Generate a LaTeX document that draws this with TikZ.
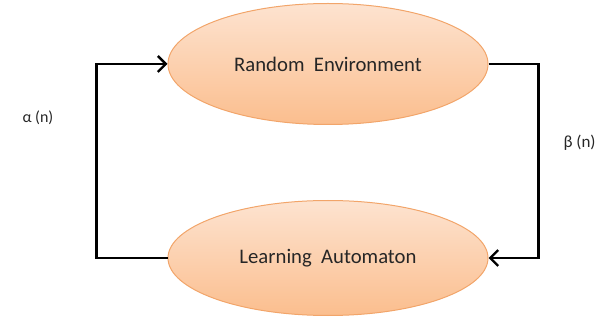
\documentclass[tikz,border=0pt]{standalone}
\usepackage{fontspec}
\setmainfont{Carlito}
\usetikzlibrary{shapes.geometric,arrows.meta}
\definecolor{peachtop}{HTML}{FDE3D0}
\definecolor{peachbot}{HTML}{FBBE8E}
\definecolor{peachline}{HTML}{F2A56A}
\definecolor{textdark}{HTML}{262626}

\begin{document}
\begin{tikzpicture}[x=1pt,y=-1pt,
    blob/.style={shape=ellipse,draw=peachline,line width=1pt,top color=peachtop,bottom color=peachbot,
      minimum width=320pt,inner sep=0pt,font=\fontsize{20.7}{24}\selectfont,text=textdark},
    feed/.style={line width=2.6pt,-{Straight Barb[length=8pt,width=16pt,line width=2.4pt]}}]
    \useasboundingbox (0,0) rectangle (600,323);
    \node[blob,minimum height=121pt] (E) at (328,64) {Random\ \ Environment};
    \node[blob,minimum height=115pt] (A) at (328,258) {Learning\ \ Automaton};
    \node[anchor=west,text=textdark,font=\fontsize{16}{19}\selectfont] (alpha) at (19,118) {α (n)};
    \node[anchor=west,text=textdark,font=\fontsize{17}{20}\selectfont] (beta) at (560,143) {β (n)};

    \draw [feed] (A.west) -- ++(-71,0) |- (E.west);
    \draw [feed] (E.east) -- ++(50,0) |- (A.east);
\end{tikzpicture}
\end{document}
